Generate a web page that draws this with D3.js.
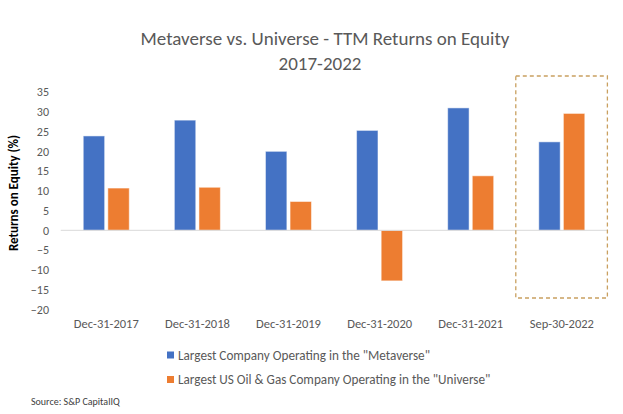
<!DOCTYPE html>
<html><head><meta charset="utf-8">
<script src="https://cdn.jsdelivr.net/npm/d3@7"></script>
<style>body{margin:0;background:#fff;} text{font-family:Carlito,Calibri,Lato,sans-serif;}</style>
</head><body><svg id="c" width="623" height="414"></svg>
<script>
const categories = ["Dec-31-2017","Dec-31-2018","Dec-31-2019","Dec-31-2020","Dec-31-2021","Sep-30-2022"];
const metaverse = [23.9, 27.9, 20.0, 25.3, 31.0, 22.4];
const universe = [10.7, 10.9, 7.3, -12.8, 13.8, 29.6];
const seriesNames = ['Largest Company Operating in the "Metaverse"', 'Largest US Oil & Gas Company Operating in the "Universe"'];
const yTicks = [35,30,25,20,15,10,5,0,-5,-10,-15,-20];
const colors = ["#4472C4", "#ED7D31"];

const svg = d3.select("#c");
const left = 60.75, right = 607.4;
const y = d3.scaleLinear().domain([-20, 35]).range([309.3, 92.1]);
const x = d3.scaleBand().domain(categories).range([left, right]);
const x1 = d3.scaleBand().domain([0,1]).range([22.5, 68.5]).paddingInner(0.13);

// title
svg.append("text").attr("x", 325).attr("y", 38).attr("text-anchor","middle").attr("dominant-baseline","central")
  .attr("font-size", 19).attr("fill","#595959").text("Metaverse vs. Universe - TTM Returns on Equity");
svg.append("text").attr("x", 320).attr("y", 63).attr("text-anchor","middle").attr("dominant-baseline","central")
  .attr("font-size", 19).attr("fill","#595959").text("2017-2022");

// y axis labels
const yAxis = d3.axisLeft(y).tickValues(yTicks).tickSize(0).tickPadding(0);
const gy = svg.append("g").attr("transform","translate(49,0)").call(yAxis);
gy.select(".domain").remove();
gy.selectAll("text").attr("font-size", 12).attr("fill","#595959").style("font-family","Carlito,Calibri,Lato,sans-serif");

svg.append("text").attr("transform","translate(13,193) rotate(-90)").attr("text-anchor","middle")
  .attr("dominant-baseline","central").attr("font-size",13).attr("font-weight","bold").attr("fill","#000")
  .text("Returns on Equity (%)");

// bars
const data = categories.map((c,i)=>({c, vals:[metaverse[i], universe[i]]}));
const g = svg.append("g");
data.forEach(d=>{
  d.vals.forEach((v,k)=>{
    g.append("rect")
      .attr("x", x(d.c) + x1(k))
      .attr("width", x1.bandwidth())
      .attr("y", y(Math.max(0,v)))
      .attr("height", Math.abs(y(v)-y(0)))
      .attr("fill", colors[k])
      .attr("stroke", "#ffffff").attr("stroke-opacity",0.5).attr("stroke-width",1);
  });
});

// zero line
svg.append("line").attr("x1", left).attr("x2", right).attr("y1", y(0)).attr("y2", y(0))
  .attr("stroke","#d9d9d9").attr("stroke-width",1);

// x labels
const xAxis = d3.axisBottom(x).tickSize(0).tickPadding(0);
const gx = svg.append("g").attr("transform","translate(0,319)").call(xAxis);
gx.select(".domain").remove();
gx.selectAll("text").attr("font-size",12.5).attr("fill","#595959").style("font-family","Carlito,Calibri,Lato,sans-serif");

// highlight box
const last = categories[categories.length-1];
svg.append("rect").attr("x", x(last) - 0.5).attr("y", 76).attr("width", x.bandwidth()+0.5)
  .attr("height", 298-76).attr("fill","none").attr("stroke","#C9A060").attr("stroke-width",1.3)
  .attr("stroke-dasharray","4,3");

// legend
seriesNames.forEach((n,k)=>{
  const ly = 355 + k*24.5;
  svg.append("rect").attr("x",167).attr("y",ly-3.5).attr("width",7).attr("height",7).attr("fill",colors[k]);
  svg.append("text").attr("x",178).attr("y",ly).attr("dominant-baseline","central").attr("font-size",13.2)
    .attr("fill","#595959").text(n);
});

svg.append("text").attr("x",31).attr("y",401).attr("dominant-baseline","central").attr("font-size",10)
  .attr("fill","#404040").text("Source: S&P CapitalIQ");
</script></body></html>
